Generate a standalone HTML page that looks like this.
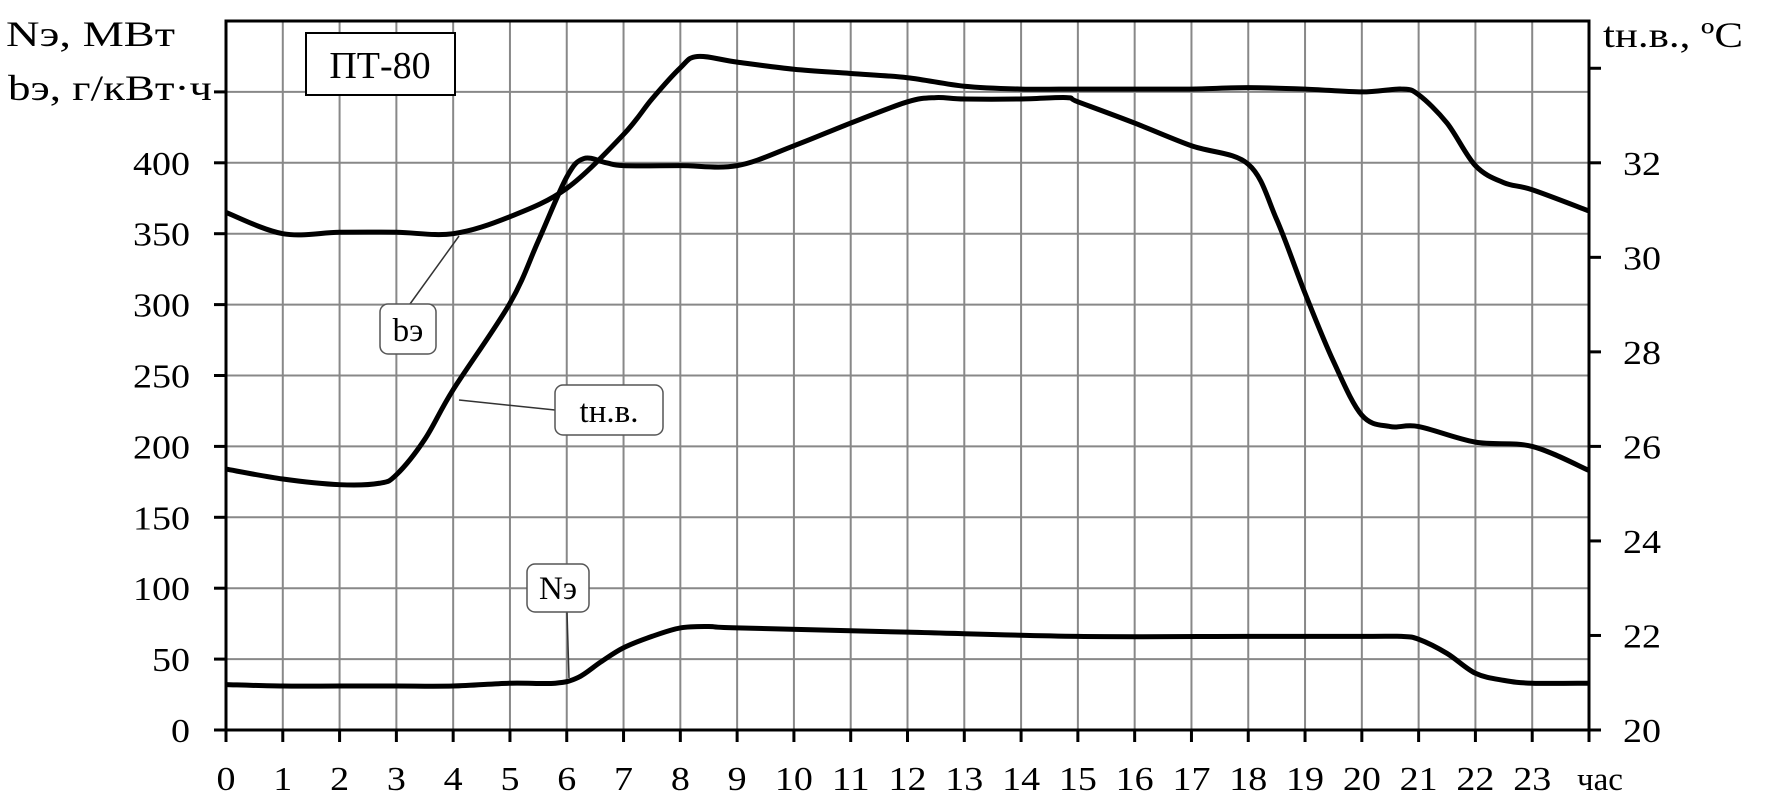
<!DOCTYPE html>
<html><head><meta charset="utf-8"><style>
html,body{margin:0;padding:0;background:#fff;}
svg{display:block;font-family:"Liberation Serif",serif;}
</style></head><body>
<svg id="s" width="1768" height="805" viewBox="0 0 1768 805" xmlns="http://www.w3.org/2000/svg">
<g id="grid" stroke="#888" stroke-width="2"></g>
<rect x="226" y="21" width="1363" height="709" fill="none" stroke="#000" stroke-width="3"/>
<g id="ticks" stroke="#000" stroke-width="3"></g>
<g id="curves" fill="none" stroke="#000" stroke-width="5" stroke-linejoin="round"></g>
<g font-size="34" fill="#000" id="labels"></g>
<text x="6" y="46" font-size="36" textLength="169" lengthAdjust="spacingAndGlyphs">Nэ, МВт</text>
<text x="8" y="100" font-size="36" textLength="204" lengthAdjust="spacingAndGlyphs">bэ, г/кВт·ч</text>
<text x="1603" y="47" font-size="36" textLength="140" lengthAdjust="spacingAndGlyphs">tн.в., ºC</text>
<rect x="306" y="33" width="149" height="62" fill="#fff" stroke="#000" stroke-width="2"/>
<text x="380" y="78" font-size="38" text-anchor="middle">ПТ-80</text>
<text x="1577" y="790" font-size="33">час</text>
<g stroke="#333" stroke-width="1.5">
<line x1="410" y1="304" x2="459" y2="236"/>
<line x1="555" y1="410" x2="459" y2="400"/>
<line x1="567" y1="612" x2="569" y2="678"/>
</g>
<g fill="#fff" stroke="#555" stroke-width="1.5">
<rect x="380" y="304" width="56" height="50" rx="8"/>
<rect x="555" y="385" width="108" height="50" rx="8"/>
<rect x="527" y="564" width="62" height="48" rx="8"/>
</g>
<g font-size="33" text-anchor="middle">
<text x="408" y="341">bэ</text>
<text x="609" y="422">tн.в.</text>
<text x="558" y="599">Nэ</text>
</g>
</svg>
<script>
var X=function(h){return 226+h*1363/24;},Y=function(v){return 730-v*709/500;};
var ns="http://www.w3.org/2000/svg";
function el(p,t,a,txt){var e=document.createElementNS(ns,t);for(var k in a)e.setAttribute(k,a[k]);if(txt!==undefined)e.textContent=txt;document.getElementById(p).appendChild(e);return e;}
for(var h=1;h<24;h++)el("grid","line",{x1:X(h),x2:X(h),y1:21,y2:730});
for(var v=50;v<500;v+=50)el("grid","line",{x1:226,x2:1589,y1:Y(v),y2:Y(v)});
for(var v=0;v<=450;v+=50){el("ticks","line",{x1:214,x2:226,y1:Y(v),y2:Y(v)});if(v<=400){var s=String(v);el("labels","text",{x:190-19*s.length,y:Y(v)+12,textLength:19*s.length,lengthAdjust:"spacingAndGlyphs"},s);}}
for(var h=0;h<=24;h++){el("ticks","line",{x1:X(h),x2:X(h),y1:730,y2:742});if(h<24){var s=String(h);el("labels","text",{x:X(h)-9.5*s.length,y:790,textLength:19*s.length,lengthAdjust:"spacingAndGlyphs"},s);}}
for(var t=20;t<=34;t+=2){var y=730-(t-20)*709/15;el("ticks","line",{x1:1589,x2:1601,y1:y,y2:y});if(t<34)el("labels","text",{x:1623,y:y+12,textLength:38,lengthAdjust:"spacingAndGlyphs"},String(t));}
function path(pts){var P=pts.map(function(p){return [X(p[0]),Y(p[1])];});var d="M"+P[0][0]+","+P[0][1];
for(var i=0;i<P.length-1;i++){var p0=P[i-1]||P[i],p1=P[i],p2=P[i+1],p3=P[i+2]||P[i+1];
d+=" C"+(p1[0]+(p2[0]-p0[0])/6)+","+(p1[1]+(p2[1]-p0[1])/6)+" "+(p2[0]-(p3[0]-p1[0])/6)+","+(p2[1]-(p3[1]-p1[1])/6)+" "+p2[0]+","+p2[1];}
el("curves","path",{d:d});}
path([[0,365],[1,350],[2,351],[3,351],[4,350],[5,362],[6,382],[7,420],[7.5,445],[8,467],[8.3,475],[9,471],[10,466],[11,463],[12,460],[13,454],[14,452],[15,452],[16,452],[17,452],[18,453],[19,452],[20,450],[20.7,452],[21,448],[21.5,428],[22,398],[22.5,386],[23,381],[24,366]]);
path([[0,184],[1,177],[2,173],[2.7,174],[3,180],[3.5,205],[4,240],[5,301],[5.5,345],[6,390],[6.3,403],[6.7,400],[7,398],[8,398],[9,398],[10,412],[11,428],[12,443],[12.5,446],[13,445],[14,445],[14.8,446],[15,443],[16,428],[17,412],[18,399],[18.5,360],[19,308],[19.5,260],[20,222],[20.5,214],[21,214],[22,203],[23,200],[24,183]]);
path([[0,32],[1,31],[2,31],[3,31],[4,31],[5,33],[5.8,33],[6.2,37],[6.6,48],[7,58],[7.5,66],[8,72],[8.5,73],[9,72],[12,69],[15,66],[18,66],[20,66],[20.7,66],[21,64],[21.5,54],[22,40],[22.5,35],[23,33],[24,33]]);
</script>
</body></html>
